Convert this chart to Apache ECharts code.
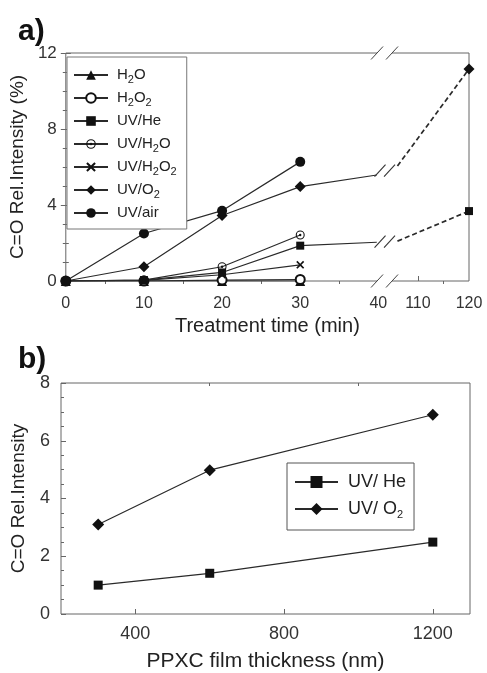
<!DOCTYPE html>
<html>
<head>
<meta charset="utf-8">
<script src="https://cdn.jsdelivr.net/npm/echarts@6/dist/echarts.min.js"></script>
<style>
html,body{margin:0;padding:0;background:#fff;}
#chart{width:487px;height:673px;}
</style>
</head>
<body>
<div id="chart"></div>
<script>
// ---- data, panel a (treatment time, min) ----
var timeA = [0, 10, 20, 30];
var h2oA = [0, 0, 0, 0];
var h2o2A = [0, 0, 0.05, 0.08];
var uvHeA = [0, 0.05, 0.45, 1.86];
var uvH2oA = [0, 0.05, 0.75, 2.42];
var uvH2o2A = [0, 0.03, 0.33, 0.85];
var uvO2A = [0, 0.75, 3.45, 4.97];
var uvAirA = [0, 2.5, 3.7, 6.27];
var timeLong = 120;
var uvHeLong = 3.68;
var uvO2Long = 11.16;
// where the two long lines are cut by the axis break
var breakTimes = [39.8, 106];
var uvHeBreak = [2.04, 2.1];
var uvO2Break = [5.58, 6.05];
var timeLabels = [0, 10, 20, 30, 40, 110, 120];
var timeMajorTicks = [10, 20, 30, 110];
var timeMinorTicks = [5, 15, 25, 35, 115];

// ---- data, panel b (film thickness, nm) ----
var thickness = [300, 600, 1200];
var uvHeB = [1.0, 1.41, 2.49];
var uvO2B = [3.1, 4.98, 6.9];
var thickLabels = [400, 800, 1200];
var thickMinorTicks = [600, 1000];

var FONT = 'Liberation Sans, Arial, sans-serif';
var LINE = '#2a2a2a';
var MARK = '#111';
var FRAME = '#666';

// broken time axis: 0-40 min at full scale, 110-120 min compressed
var RIGHT_START = 110, RIGHT_POS = 45.06, RIGHT_SCALE = 0.654;
function pos(t){
    return t <= 40 ? t : RIGHT_POS + (t - RIGHT_START) * RIGHT_SCALE;
}
var AXIS_BREAK = 40.79;

var ringDot = 'path://M5,0 A5,5 0 1,1 5,10 A5,5 0 1,1 5,0 Z M5,1.2 A3.8,3.8 0 1,0 5,8.8 A3.8,3.8 0 1,0 5,1.2 Z M5,3.7 A1.3,1.3 0 1,1 5,6.3 A1.3,1.3 0 1,1 5,3.7 Z';
var cross = 'path://M0,1.5 L1.5,0 L5,3.5 L8.5,0 L10,1.5 L6.5,5 L10,8.5 L8.5,10 L5,6.5 L1.5,10 L0,8.5 L3.5,5 Z';

function pts(xs, ys){
    return xs.map(function(x, i){ return [pos(x), ys[i]]; });
}

function lineSeries(name, data, symbol, size, extra){
    var s = {
        name: name,
        type: 'line',
        xAxisIndex: 0,
        yAxisIndex: 0,
        data: data,
        symbol: symbol,
        symbolSize: size,
        lineStyle: {color: LINE, width: 1.2},
        itemStyle: {color: MARK, borderWidth: 0},
        emphasis: {disabled: true},
        z: 3
    };
    for (var k in extra) s[k] = extra[k];
    return s;
}

var uvHeData = pts(timeA, uvHeA);
uvHeData.push({value: [pos(breakTimes[0]), uvHeBreak[0]], symbol: 'none'});
var uvO2Data = pts(timeA, uvO2A);
uvO2Data.push({value: [pos(breakTimes[0]), uvO2Break[0]], symbol: 'none'});

var legendTextA = {
    'H2O': 'H{sub|2}O',
    'H2O2': 'H{sub|2}O{sub|2}',
    'UV/He': 'UV/He',
    'UV/H2O': 'UV/H{sub|2}O',
    'UV/H2O2': 'UV/H{sub|2}O{sub|2}',
    'UV/O2': 'UV/O{sub|2}',
    'UV/air': 'UV/air'
};
var legendTextB = {
    'UV/ He': 'UV/ He',
    'UV/ O2': 'UV/ O{sub|2}'
};

function fmtTime(v){
    for (var i = 0; i < timeLabels.length; i++) {
        if (Math.abs(pos(timeLabels[i]) - v) < 0.01) return String(timeLabels[i]);
    }
    return '';
}

var chart = echarts.init(document.getElementById('chart'));

var option = {
    animation: false,
    backgroundColor: '#fff',
    title: [
        {text: 'a)', left: 13, top: 12, textStyle: {fontSize: 30, fontWeight: 'bold', color: '#111', fontFamily: FONT}},
        {text: 'b)', left: 13, top: 340, textStyle: {fontSize: 30, fontWeight: 'bold', color: '#111', fontFamily: FONT}}
    ],
    grid: [
        {left: 61, top: 53, width: 408, height: 228, show: true, borderColor: FRAME, borderWidth: 1},
        {left: 61, top: 383, width: 409, height: 231, show: true, borderColor: FRAME, borderWidth: 1}
    ],
    xAxis: [
        {
            gridIndex: 0, type: 'value', min: 0, max: pos(timeLong),
            name: 'Treatment time (min)', nameLocation: 'middle', nameGap: 35,
            nameTextStyle: {fontSize: 20, color: '#222', fontFamily: FONT},
            axisLine: {show: false},
            splitLine: {show: false},
            axisTick: {inside: true, length: 5, customValues: timeMajorTicks.map(pos), lineStyle: {color: FRAME}},
            axisLabel: {customValues: timeLabels.map(pos), formatter: fmtTime, fontSize: 16, color: '#333', margin: 15, fontFamily: FONT}
        },
        {
            gridIndex: 0, type: 'value', min: 0, max: pos(timeLong),
            axisLine: {show: false}, splitLine: {show: false}, axisLabel: {show: false},
            axisTick: {inside: true, length: 3, customValues: timeMinorTicks.map(pos), lineStyle: {color: FRAME}}
        },
        {
            gridIndex: 1, type: 'value', min: 200, max: 1300,
            name: 'PPXC film thickness (nm)', nameLocation: 'middle', nameGap: 37,
            nameTextStyle: {fontSize: 21, color: '#222', fontFamily: FONT},
            axisLine: {show: false},
            splitLine: {show: false},
            axisTick: {inside: true, length: 5, customValues: thickLabels, lineStyle: {color: FRAME}},
            axisLabel: {customValues: thickLabels, formatter: function(v){ return String(v); }, fontSize: 18, color: '#333', margin: 11, fontFamily: FONT}
        },
        {
            gridIndex: 1, type: 'value', min: 200, max: 1300,
            axisLine: {show: false}, splitLine: {show: false}, axisLabel: {show: false},
            axisTick: {inside: true, length: 3, customValues: thickMinorTicks, lineStyle: {color: FRAME}}
        }
    ],
    yAxis: [
        {
            gridIndex: 0, type: 'value', min: 0, max: 12, interval: 4,
            name: 'C=O Rel.Intensity (%)', nameLocation: 'middle', nameGap: 32,
            nameTextStyle: {fontSize: 19, color: '#222', fontFamily: FONT},
            axisLine: {show: false}, splitLine: {show: false},
            axisTick: {inside: true, length: 5, lineStyle: {color: FRAME}},
            minorTick: {show: true, splitNumber: 4, length: 3, lineStyle: {color: FRAME}},
            axisLabel: {fontSize: 17, color: '#333', margin: 9, fontFamily: FONT}
        },
        {
            gridIndex: 0, type: 'value', min: 0, max: 12, interval: 4, position: 'right',
            axisLine: {show: false}, splitLine: {show: false}, axisLabel: {show: false},
            axisTick: {inside: true, length: 5, lineStyle: {color: FRAME}},
            minorTick: {show: true, splitNumber: 4, length: 3, lineStyle: {color: FRAME}}
        },
        {
            gridIndex: 1, type: 'value', min: 0, max: 8, interval: 2,
            name: 'C=O Rel.Intensity', nameLocation: 'middle', nameGap: 33,
            nameTextStyle: {fontSize: 19, color: '#222', fontFamily: FONT},
            axisLine: {show: false}, splitLine: {show: false},
            axisTick: {inside: true, length: 5, lineStyle: {color: FRAME}},
            minorTick: {show: true, splitNumber: 4, length: 3, lineStyle: {color: FRAME}},
            axisLabel: {fontSize: 18, color: '#333', margin: 11, fontFamily: FONT}
        }
    ],
    legend: [
        {
            data: ['H2O', 'H2O2', 'UV/He', 'UV/H2O', 'UV/H2O2', 'UV/O2', 'UV/air'],
            orient: 'vertical', left: 67, top: 57,
            itemWidth: 34, itemHeight: 12, itemGap: 3,
            padding: [8, 10, 6, 6],
            borderColor: '#777', borderWidth: 1, backgroundColor: '#fff',
            selectedMode: false,
            formatter: function(n){ return legendTextA[n]; },
            textStyle: {
                fontFamily: FONT, fontSize: 15, color: '#222', lineHeight: 20, padding: [0, 0, 0, 4],
                rich: {sub: {fontFamily: FONT, fontSize: 11, lineHeight: 11, verticalAlign: 'bottom', color: '#222'}}
            }
        },
        {
            data: ['UV/ He', 'UV/ O2'],
            orient: 'vertical', left: 287, top: 463,
            itemWidth: 43, itemHeight: 15, itemGap: 5,
            padding: [8, 8, 10, 7],
            borderColor: '#555', borderWidth: 1, backgroundColor: '#fff',
            selectedMode: false,
            formatter: function(n){ return legendTextB[n]; },
            textStyle: {
                fontFamily: FONT, fontSize: 18, color: '#222', lineHeight: 22, padding: [0, 0, 0, 5],
                rich: {sub: {fontFamily: FONT, fontSize: 11, lineHeight: 11, verticalAlign: 'bottom', color: '#222'}}
            }
        }
    ],
    series: [
        lineSeries('H2O', pts(timeA, h2oA), 'triangle', 10),
        lineSeries('H2O2', pts(timeA, h2o2A), 'emptyCircle', 9, {itemStyle: {color: MARK, borderWidth: 1}}),
        lineSeries('UV/He', uvHeData, 'rect', 8),
        lineSeries('UV/H2O', pts(timeA, uvH2oA), ringDot, 9),
        lineSeries('UV/H2O2', pts(timeA, uvH2o2A), cross, 8),
        lineSeries('UV/O2', uvO2Data, 'diamond', 11),
        lineSeries('UV/air', pts(timeA, uvAirA), 'circle', 10),
        lineSeries('UV/He 120 min', [
            {value: [pos(breakTimes[1]), uvHeBreak[1]], symbol: 'none'},
            [pos(timeLong), uvHeLong]
        ], 'rect', 8, {lineStyle: {color: LINE, width: 1.7, type: [5, 3]}}),
        lineSeries('UV/O2 120 min', [
            {value: [pos(breakTimes[1]), uvO2Break[1]], symbol: 'none'},
            [pos(timeLong), uvO2Long]
        ], 'diamond', 11, {lineStyle: {color: LINE, width: 1.7, type: [5, 3]}}),
        lineSeries('UV/ He', thickness.map(function(x, i){ return [x, uvHeB[i]]; }), 'rect', 9, {xAxisIndex: 2, yAxisIndex: 2}),
        lineSeries('UV/ O2', thickness.map(function(x, i){ return [x, uvO2B[i]]; }), 'diamond', 12, {xAxisIndex: 2, yAxisIndex: 2})
    ]
};
chart.setOption(option);

// axis-break marks ( // ) on the frame and on the two long lines
function toPx(x, y){
    return chart.convertToPixel({xAxisIndex: 0, yAxisIndex: 0}, [x, y]);
}
var graphics = [];
var cx = toPx(AXIS_BREAK, 0)[0];
[toPx(AXIS_BREAK, 0)[1], toPx(AXIS_BREAK, 12)[1]].forEach(function(yy){
    graphics.push({type: 'rect', shape: {x: cx - 7.5, y: yy - 2, width: 15, height: 4}, style: {fill: '#fff'}, z: 100});
    graphics.push({type: 'line', shape: {x1: cx - 13.5, y1: yy + 6.5, x2: cx - 1.5, y2: yy - 6.5}, style: {stroke: '#444', lineWidth: 1}, z: 101});
    graphics.push({type: 'line', shape: {x1: cx + 1.5, y1: yy + 6.5, x2: cx + 13.5, y2: yy - 6.5}, style: {stroke: '#444', lineWidth: 1}, z: 101});
});
[uvHeBreak, uvO2Break].forEach(function(b){
    var my = (toPx(pos(breakTimes[0]), b[0])[1] + toPx(pos(breakTimes[1]), b[1])[1]) / 2;
    [cx - 4.5, cx + 5].forEach(function(c){
        graphics.push({type: 'line', shape: {x1: c - 5.5, y1: my + 6, x2: c + 5.5, y2: my - 6}, style: {stroke: '#333', lineWidth: 1.1}, z: 101});
    });
});
chart.setOption({graphic: graphics});
</script>
</body>
</html>
